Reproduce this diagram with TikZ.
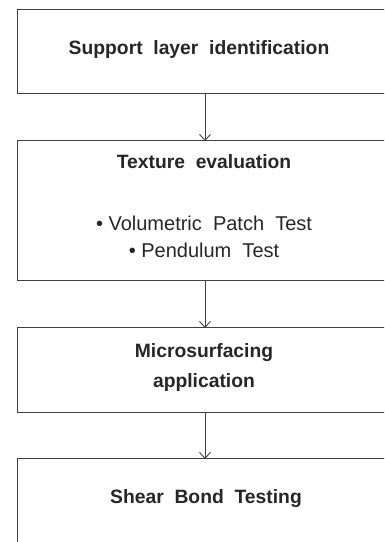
\documentclass[tikz,border=0pt]{standalone}
\usepackage{fontspec}
\setmainfont{Liberation Sans}
\usetikzlibrary{arrows.meta}
\begin{document}
\begin{tikzpicture}[x=1pt,y=-1pt,
  stagebox/.style={draw=black!75,line width=1pt,minimum width=376pt,inner sep=0pt,anchor=north},
  ttl/.style={font=\fontsize{19.3}{22}\selectfont\bfseries,text=black!85,inner sep=0pt},
  itm/.style={font=\fontsize{20}{23}\selectfont,text=black!85,inner sep=0pt},
  flow/.style={draw=black!75,line width=0.9pt,-{Straight Barb[length=6pt,width=11pt,line width=0.9pt]}}]
\useasboundingbox (0,0) rectangle (384,542);
\clip (0,0) rectangle (384,542);
\node[stagebox,minimum height=84pt] (b1) at (205,9) {};
\node[stagebox,minimum height=140pt] (b2) at (205,140) {};
\node[stagebox,minimum height=85pt] (b3) at (205,327) {};
\node[stagebox,minimum height=90pt] (b4) at (205,458) {};
\node[ttl] (t1) at (199,50) {Support\ \ layer\ \ identification};
\node[ttl] (t2) at (204,162) {Texture\ \ evaluation};
\node[itm] (i1) at (204,223) {• Volumetric\ \ Patch\ \ Test};
\node[itm] (i2) at (204,250) {• Pendulum\ \ Test};
\node[ttl] (t3) at (204,353) {Microsurfacing};
\node[ttl] (t4) at (204,383) {application};
\node[ttl] (t5) at (206,499) {Shear\ \ Bond\ \ Testing};
\draw[flow] (b1.south) -- ([yshift=-1pt]b2.north);
\draw[flow] (b2.south) -- ([yshift=-1pt]b3.north);
\draw[flow] (b3.south) -- ([yshift=-1pt]b4.north);
\end{tikzpicture}
\end{document}
